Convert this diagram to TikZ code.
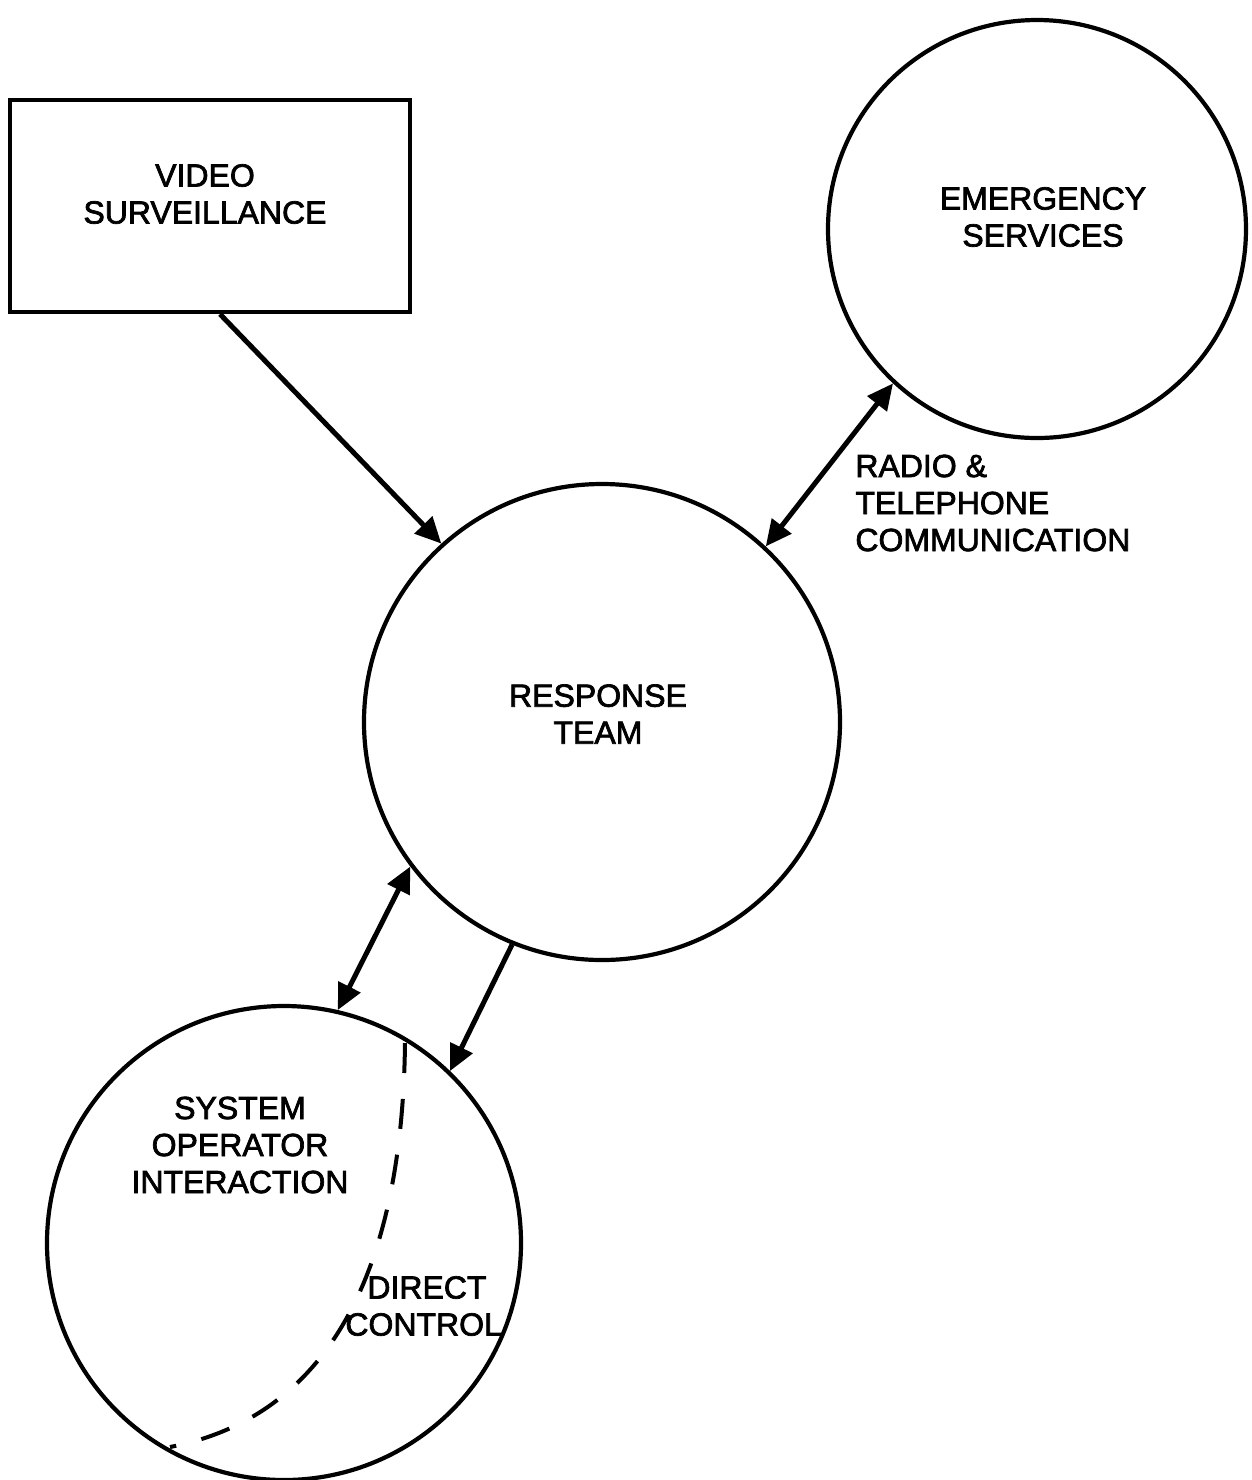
\documentclass[tikz,border=0pt]{standalone}
\usepackage{fontspec}
\setmainfont{Liberation Sans}
\newfontface\lblfont{Liberation Sans}[FakeBold=2.2]
\usetikzlibrary{arrows.meta}
\begin{document}
\begin{tikzpicture}[x=0.5pt,y=-0.5pt,
  txt/.style={font=\lblfont\fontsize{16pt}{18.5pt}\selectfont, align=center, inner sep=0pt},
  circ/.style={circle, draw, line width=2.1pt, inner sep=0pt},
  boxst/.style={rectangle, draw, line width=2.1pt, inner sep=0pt, minimum width=200pt, minimum height=106pt},
  tip/.tip={Triangle[length=13pt,width=12pt]},
  flow/.style={line width=2.5pt, -tip},
  flow2/.style={line width=2.5pt, tip-tip},
  dashline/.style={line width=2pt, dash pattern=on 15pt off 13pt}
]
\useasboundingbox (0,0) rectangle (1252,1480);
% shapes
\node[boxst] (vs) at (210,206) {};
\node[circ, minimum size=209pt] (emerg) at (1037,229) {};
\node[circ, minimum size=238pt] (resp) at (602,722) {};
\node[circ, minimum size=237pt] (op) at (284,1243) {};
% texts
\node[txt] (vsText) at (205,194) {VIDEO\\SURVEILLANCE};
\node[txt] (emText) at (1043,217) {EMERGENCY\\SERVICES};
\node[txt] (rtText) at (598,714) {RESPONSE\\TEAM};
\node[txt] (opText) at (240,1145) {SYSTEM\\OPERATOR\\INTERACTION};
\node[txt, align=left, anchor=west] (radio) at (855,503) {RADIO \&\\TELEPHONE\\COMMUNICATION};
\node[txt, align=left, anchor=west] (dc) at (345,1306) {\hspace*{11pt}DIRECT\\CONTROL};
% connectors
\coordinate (vsOut) at ([xshift=5pt]vs.south);
\draw[flow] (vsOut) -- (resp.132);
\draw[flow2] (emerg.227) -- (resp.47);
\draw[flow2] (resp.217) -- (op.77);
\draw[flow] (resp.248) -- (op.46);
% dashed direct control boundary
\coordinate (dcTop) at (405,1043);
\coordinate (dcEnd) at (170,1447);
\draw[dashline] (dcTop) .. controls (402,1300) and (310,1420) .. (dcEnd);
\end{tikzpicture}
\end{document}
